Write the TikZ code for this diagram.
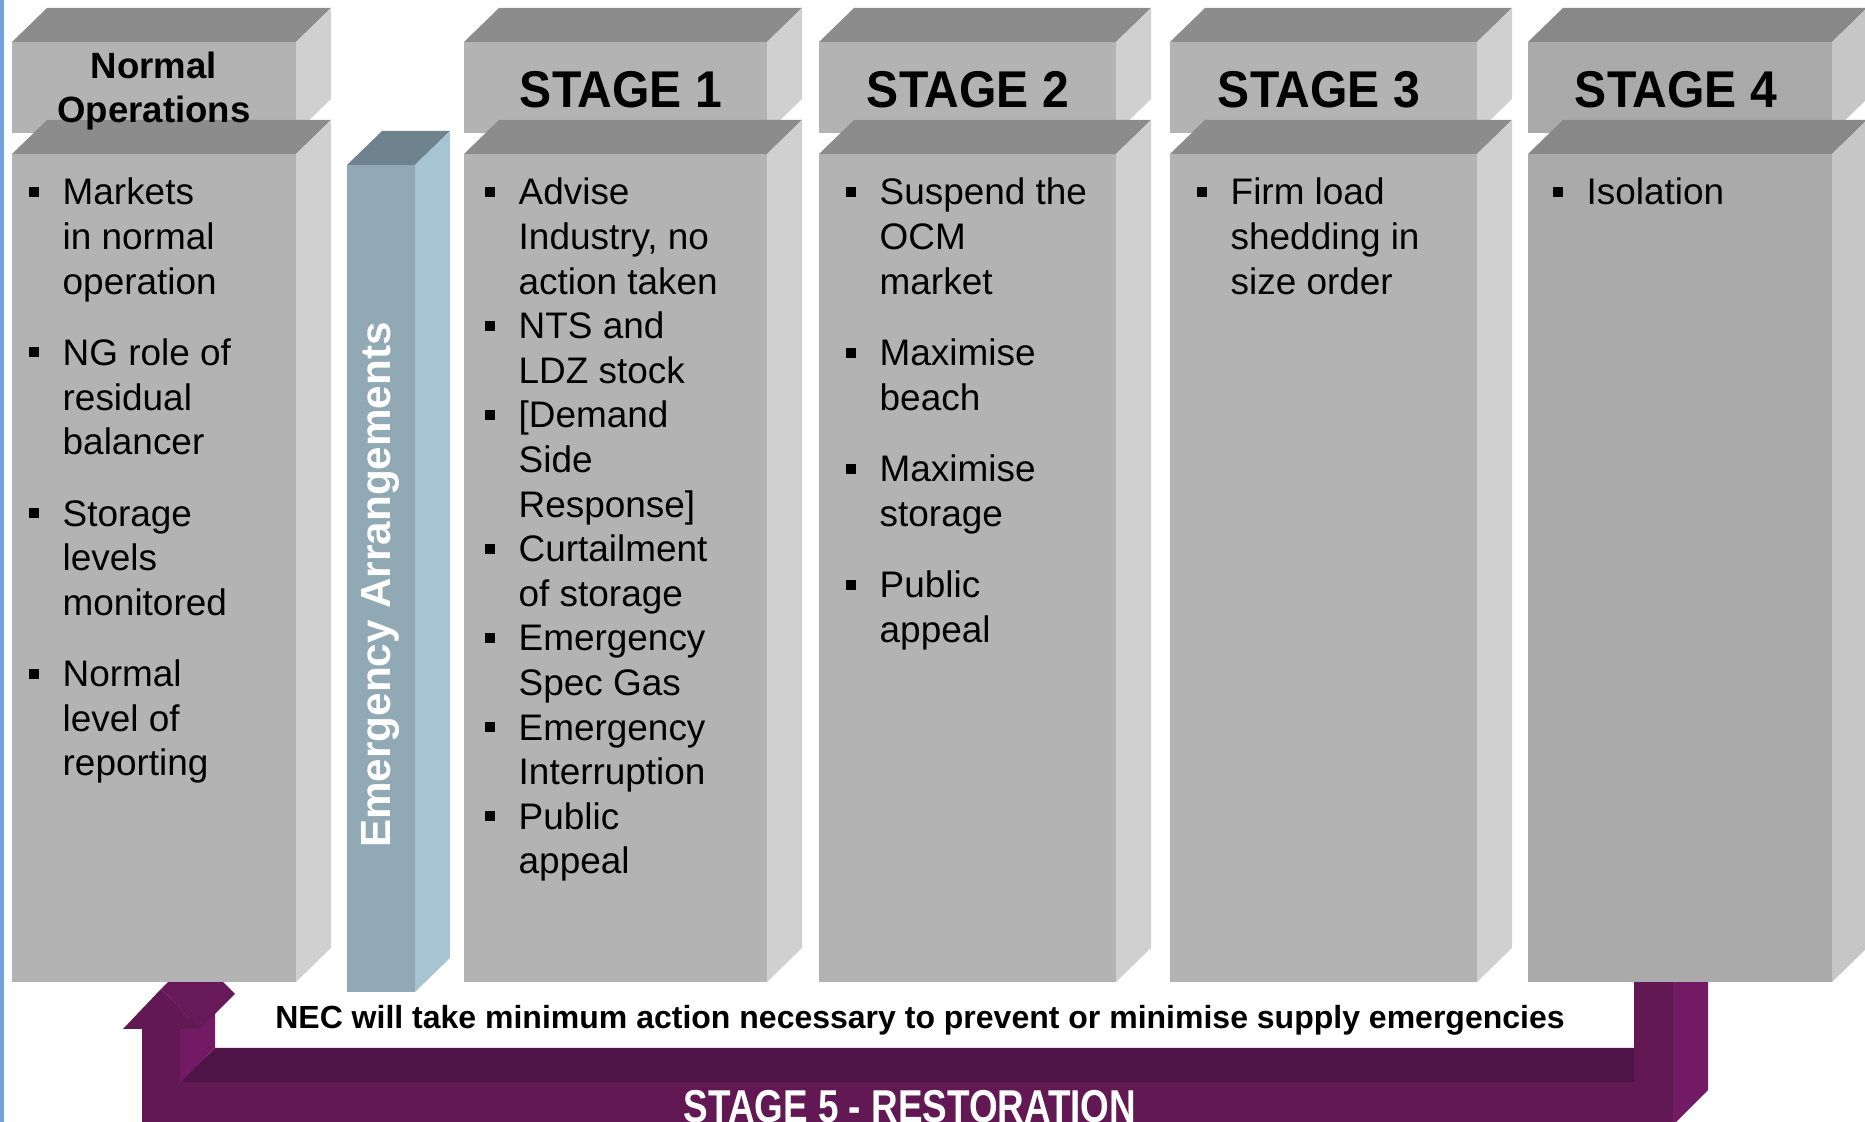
\documentclass[tikz,border=0pt]{standalone}
\usepackage{fontspec}
\setmainfont{Liberation Sans}
\usetikzlibrary{positioning}

\definecolor{greyfront}{HTML}{B3B3B3}
\definecolor{greytop}{HTML}{8C8C8C}
\definecolor{greyside}{HTML}{D0D0D0}
\definecolor{darkfront}{HTML}{AAAAAA}
\definecolor{darktop}{HTML}{888888}
\definecolor{darkside}{HTML}{C6C6C6}
\definecolor{bluefront}{HTML}{91A8B5}
\definecolor{bluetop}{HTML}{6F838E}
\definecolor{blueside}{HTML}{A7C4D3}
\definecolor{plumfront}{HTML}{621852}
\definecolor{plumtop}{HTML}{4E1446}
\definecolor{plumside}{HTML}{721B64}
\definecolor{plumhead}{HTML}{67195A}
\definecolor{edgeblue}{HTML}{6FA3DC}

% front box from (#1,#2) to (#3,#4), colour set #5
\newcommand{\slab}[5]{%
	\fill[#5top] (#1,#2) -- ++(35,-34) -- (#3+35,#2-34) -- (#3,#2) -- cycle;
	\fill[#5side] (#3,#2) -- (#3+35,#2-34) -- (#3+35,#4-34) -- (#3,#4) -- cycle;
	\fill[#5front] (#1,#2) rectangle (#3,#4);
}
\newcommand{\bul}{\llap{\rule[0.08cm]{0.1cm}{0.1cm}\hspace{0.24cm}}}

\begin{document}
\begin{tikzpicture}[x=0.01cm,y=-0.01cm]

	% items are placed by the baseline of their last line
	\tikzstyle{item}=[anchor=base west,align=left,inner sep=0pt,
		font=\fontsize{10.5}{12.7}\selectfont]
	\tikzstyle{normtext}=[align=center,inner sep=0pt,
		font=\fontsize{10.4}{12.5}\selectfont\bfseries]
	\tikzstyle{stagetext}=[inner sep=0pt,xscale=0.93,
		font=\fontsize{14.7}{16}\selectfont\bfseries]
	\tikzstyle{emtext}=[inner sep=0pt,rotate=90,text=white,
		font=\fontsize{12}{14}\selectfont\bfseries]
	\tikzstyle{note}=[inner sep=0pt,
		font=\fontsize{9.1}{11}\selectfont\bfseries]
	\tikzstyle{restext}=[inner sep=0pt,anchor=base,xscale=0.8,text=white,
		font=\fontsize{13.1}{15}\selectfont\bfseries]

	\useasboundingbox (0,0) rectangle (1865,1122);
	\fill[edgeblue] (0,0) rectangle (4,1122);

	% restoration arrow
	\fill[plumtop] (180,1082) -- (215,1048) -- (1634,1048) -- (1634,1082) -- cycle;
	\fill[plumfront] (180,1082) rectangle (1634,1122);
	\fill[plumside] (1673,982) -- (1708,982) -- (1708,1090) -- (1673,1125) -- cycle;
	\fill[plumfront] (1634,982) rectangle (1673,1122);
	\fill[plumside] (180,1029) -- (215,994) -- (215,1048) -- (180,1083) -- cycle;
	\fill[plumhead] (161,989) -- (200,1029) -- (235,994) -- (196,955) -- cycle;
	\fill[plumfront] (142,1122) -- (142,1029) -- (123,1029) -- (161,989)
		-- (200,1029) -- (180,1029) -- (180,1122) -- cycle;

	% headers
	\slab{12}{42}{296}{133}{grey}
	\slab{464}{42}{767}{133}{grey}
	\slab{819}{42}{1116}{133}{grey}
	\slab{1170}{42}{1477}{133}{grey}
	\slab{1528}{42}{1832}{133}{dark}

	% bodies
	\slab{12}{154}{296}{982}{grey}
	\slab{347}{165}{415}{992}{blue}
	\slab{464}{154}{767}{982}{grey}
	\slab{819}{154}{1116}{982}{grey}
	\slab{1170}{154}{1477}{982}{grey}
	\slab{1528}{154}{1832}{982}{dark}

	\node[normtext]		(h0)	at (154,91.5)	{Normal\\Operations};
	\node[stagetext]	(h1)	at (621,90)	{STAGE 1};
	\node[stagetext]	(h2)	at (968,90)	{STAGE 2};
	\node[stagetext]	(h3)	at (1319,90)	{STAGE 3};
	\node[stagetext]	(h4)	at (1676,90)	{STAGE 4};

	\node[emtext]	(em)	at (380,585)	{Emergency Arrangements};

	\node[item]	(a1)	at (62,294.2)	{\bul Markets\\in normal\\operation};
	\node[item]	(a2)	at (62,454.8)	{\bul NG role of\\residual\\balancer};
	\node[item]	(a3)	at (62,615.4)	{\bul Storage\\levels\\monitored};
	\node[item]	(a4)	at (62,776)	{\bul Normal\\level of\\reporting};

	\node[item]	(b1)	at (518,294.2)	{\bul Advise\\Industry, no\\action taken};
	\node[item]	(b2)	at (518,383.4)	{\bul NTS and\\LDZ stock};
	\node[item]	(b3)	at (518,517.2)	{\bul [Demand\\Side\\Response]};
	\node[item]	(b4)	at (518,606.4)	{\bul Curtailment\\of storage};
	\node[item]	(b5)	at (518,695.6)	{\bul Emergency\\Spec Gas};
	\node[item]	(b6)	at (518,784.8)	{\bul Emergency\\Interruption};
	\node[item]	(b7)	at (518,874)	{\bul Public\\appeal};

	\node[item]	(c1)	at (879,294.2)	{\bul Suspend the\\OCM\\market};
	\node[item]	(c2)	at (879,410.2)	{\bul Maximise\\beach};
	\node[item]	(c3)	at (879,526.2)	{\bul Maximise\\storage};
	\node[item]	(c4)	at (879,642.2)	{\bul Public\\appeal};

	\node[item]	(d1)	at (1230,294.2)	{\bul Firm load\\shedding in\\size order};

	\node[item]	(e1)	at (1586,205)	{\bul Isolation};

	\node[note]	(nec)	at (920,1020)	{NEC will take minimum action necessary to prevent or minimise supply emergencies};
	\node[restext]	(st5)	at (910,1123)	{STAGE 5 - RESTORATION};

\end{tikzpicture}
\end{document}
